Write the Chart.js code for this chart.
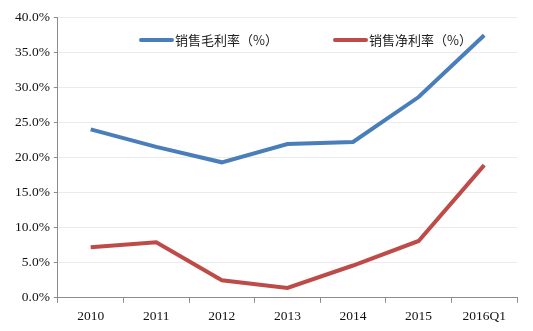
<!DOCTYPE html>
<html>
<head>
<meta charset="utf-8">
<script src="https://cdn.jsdelivr.net/npm/chart.js@4/dist/chart.umd.min.js"></script>
<style>
  html, body { margin: 0; padding: 0; background: #fff; }
  #wrap { width: 533px; height: 331px; }
</style>
</head>
<body>
<div id="wrap"><canvas id="marginChart"></canvas></div>
<script>
const years = ['2010', '2011', '2012', '2013', '2014', '2015', '2016Q1'];
const grossMargin = [24.0, 21.5, 19.3, 21.9, 22.2, 28.6, 37.4];
const netMargin = [7.2, 7.9, 2.5, 1.4, 4.6, 8.1, 18.9];
const yTicks = [0, 5, 10, 15, 20, 25, 30, 35, 40];

const colors = {
    blue: '#4A7EBB',
    red: '#BE4B48',
    axis: '#8c8c8c',
    grid: '#ebebeb'
};

// legend sits inside the plot, near the top
const innerLegend = {
    id: 'innerLegend',
    afterDraw(chart) {
        const ctx = chart.ctx;
        const items = [
            { x: 141, label: '销售毛利率（%）', color: colors.blue },
            { x: 335, label: '销售净利率（%）', color: colors.red }
        ];
        ctx.save();
        ctx.font = '13px "Noto Sans CJK SC"';
        ctx.textBaseline = 'middle';
        items.forEach(it => {
            ctx.strokeStyle = it.color;
            ctx.lineWidth = 4;
            ctx.lineCap = 'round';
            ctx.beginPath();
            ctx.moveTo(it.x, 40);
            ctx.lineTo(it.x + 31, 40);
            ctx.stroke();
            ctx.fillStyle = '#222';
            ctx.fillText(it.label, it.x + 34, 40);
        });
        ctx.restore();
    }
};

const ctx = document.getElementById('marginChart').getContext('2d');
new Chart(ctx, {
    type: 'line',
    data: {
        labels: years,
        datasets: [{
            label: '销售毛利率（%）',
            data: grossMargin,
            borderColor: colors.blue,
            borderWidth: 4,
            pointRadius: 0,
            tension: 0
        }, {
            label: '销售净利率（%）',
            data: netMargin,
            borderColor: colors.red,
            borderWidth: 4,
            pointRadius: 0,
            tension: 0
        }]
    },
    options: {
        responsive: true,
        maintainAspectRatio: false,
        animation: false,
        layout: {
            padding: { top: 17, right: 16, bottom: 0, left: 11 }
        },
        plugins: {
            legend: { display: false },
            tooltip: { enabled: false }
        },
        scales: {
            x: {
                offset: true,
                grid: {
                    offset: true,
                    drawOnChartArea: false,
                    tickLength: 5,
                    tickColor: colors.axis
                },
                border: { color: colors.axis },
                ticks: {
                    color: '#111',
                    padding: 6,
                    font: { family: '"Liberation Serif", serif', size: 13.5 }
                }
            },
            y: {
                min: 0,
                max: 40,
                afterBuildTicks(axis) {
                    axis.ticks = yTicks.map(v => ({ value: v }));
                },
                grid: {
                    color: colors.grid,
                    tickLength: 4,
                    tickColor: colors.axis
                },
                border: { color: colors.axis },
                ticks: {
                    color: '#111',
                    padding: 4,
                    font: { family: '"Liberation Serif", serif', size: 13.5 },
                    callback: v => v.toFixed(1) + '%'
                }
            }
        }
    },
    plugins: [innerLegend]
});
</script>
</body>
</html>
